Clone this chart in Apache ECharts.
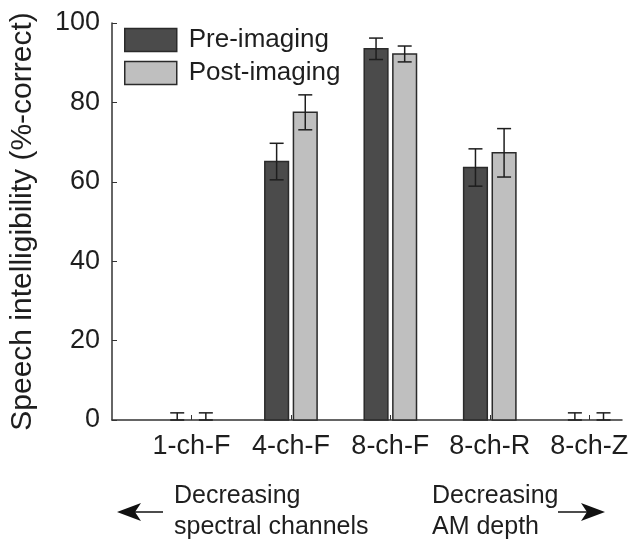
<!DOCTYPE html>
<html>
<head>
<meta charset="utf-8">
<script src="https://cdn.jsdelivr.net/npm/echarts@6/dist/echarts.min.js"></script>
<style>
  html, body { margin: 0; padding: 0; background: #fff; }
  #main { width: 631px; height: 541px; }
</style>
</head>
<body>
<div id="main"></div>
<script>
// conditions along the x axis
let categories = ['1-ch-F', '4-ch-F', '8-ch-F', '8-ch-R', '8-ch-Z'];
let catPos = [1, 2, 3, 4, 5];

// mean % correct and error
let preValues = [0, 65.1, 93.5, 63.6, 0];
let preErr = [1.8, 4.6, 2.7, 4.7, 1.8];
let postValues = [0, 77.5, 92.2, 67.3, 0];
let postErr = [1.8, 4.4, 2.0, 6.1, 1.8];

let yTicks = [0, 20, 40, 60, 80, 100];

let FONT = '"Liberation Sans", Arial, sans-serif';
let TXT = '#1e1e1e';

function makeData(vals, errs) {
    return catPos.map(function (x, i) { return [x, vals[i], errs[i]]; });
}

function barRenderer(side, fill) {
    return function (params, api) {
        let x = api.value(0), v = api.value(1), e = api.value(2);
        let unit = api.size([1, 0])[0];
        let bw = unit * 0.238;
        let cx = api.coord([x, 0])[0] + side * unit * 0.144;
        let base = api.coord([x, 0])[1];
        let top = api.coord([x, v])[1];
        let hi = api.coord([x, v + e])[1];
        let lo = api.coord([x, Math.max(0, v - e)])[1];
        let cap = 7;
        let children = [];
        if (v > 0) {
            children.push({
                type: 'rect',
                shape: { x: cx - bw / 2, y: top, width: bw, height: base - top },
                style: { fill: fill, stroke: '#2a2a2a', lineWidth: 1.5 }
            });
        }
        let es = { stroke: '#1e1e1e', lineWidth: 1.5 };
        children.push({ type: 'line', shape: { x1: cx, y1: hi, x2: cx, y2: lo }, style: es });
        children.push({ type: 'line', shape: { x1: cx - cap, y1: hi, x2: cx + cap, y2: hi }, style: es });
        children.push({ type: 'line', shape: { x1: cx - cap, y1: lo, x2: cx + cap, y2: lo }, style: es });
        return { type: 'group', children: children };
    };
}

let chart = echarts.init(document.getElementById('main'));

let option = {
    animation: false,
    backgroundColor: '#fff',
    textStyle: { fontFamily: FONT },
    grid: { left: 106, right: 9, top: 23, bottom: 121 },
    legend: {
        orient: 'vertical',
        left: 124,
        top: 27,
        padding: 0,
        itemWidth: 52,
        itemHeight: 23,
        itemGap: 7,
        textStyle: { fontSize: 26, color: TXT, fontFamily: FONT, padding: [0, 0, 0, 7] },
        data: [
            { name: 'Pre-imaging', icon: 'rect', itemStyle: { color: '#4b4b4b', borderColor: '#2a2a2a', borderWidth: 1.5 } },
            { name: 'Post-imaging', icon: 'rect', itemStyle: { color: '#bfbfbf', borderColor: '#2a2a2a', borderWidth: 1.5 } }
        ]
    },
    xAxis: {
        type: 'value',
        min: 0.2,
        max: 5.33,
        splitLine: { show: false },
        axisLine: { show: true, lineStyle: { color: '#333', width: 1.5 } },
        axisTick: { show: true, inside: true, length: 5, customValues: catPos, lineStyle: { color: '#333' } },
        axisLabel: {
            customValues: catPos,
            fontSize: 27,
            color: TXT,
            margin: 13,
            formatter: function (v) { return categories[Math.round(v) - 1]; }
        }
    },
    yAxis: {
        type: 'value',
        min: 0,
        max: 100,
        interval: 20,
        name: 'Speech intelligibility (%-correct)',
        nameLocation: 'middle',
        nameGap: 74,
        nameTextStyle: { fontSize: 30, color: TXT },
        splitLine: { show: false },
        axisLine: { show: true, lineStyle: { color: '#333', width: 1.5 } },
        axisTick: { show: true, inside: true, length: 5, lineStyle: { color: '#333' } },
        axisLabel: {
            fontSize: 27,
            color: TXT,
            margin: 12,
            formatter: function (v) { return yTicks.indexOf(v) >= 0 ? String(v) : ''; }
        }
    },
    series: [
        {
            name: 'Pre-imaging',
            type: 'custom',
            itemStyle: { color: '#4b4b4b' },
            renderItem: barRenderer(-1, '#4b4b4b'),
            data: makeData(preValues, preErr)
        },
        {
            name: 'Post-imaging',
            type: 'custom',
            itemStyle: { color: '#bfbfbf' },
            renderItem: barRenderer(1, '#bfbfbf'),
            data: makeData(postValues, postErr)
        }
    ],
    graphic: [
        {
            type: 'text', left: 174, top: 481,
            style: { text: 'Decreasing\nspectral channels', font: '25px ' + FONT, fill: TXT, lineHeight: 31 }
        },
        {
            type: 'text', left: 432, top: 481,
            style: { text: 'Decreasing\nAM depth', font: '25px ' + FONT, fill: TXT, lineHeight: 31 }
        },
        {
            type: 'line', shape: { x1: 163, y1: 512, x2: 130, y2: 512 },
            style: { stroke: '#111', lineWidth: 1.5 }
        },
        {
            type: 'polygon', shape: { points: [[117, 512], [141, 503], [135, 512], [141, 521]] },
            style: { fill: '#111' }
        },
        {
            type: 'line', shape: { x1: 558, y1: 512, x2: 592, y2: 512 },
            style: { stroke: '#111', lineWidth: 1.5 }
        },
        {
            type: 'polygon', shape: { points: [[605, 512], [581, 503], [587, 512], [581, 521]] },
            style: { fill: '#111' }
        }
    ]
};

chart.setOption(option);
</script>
</body>
</html>
